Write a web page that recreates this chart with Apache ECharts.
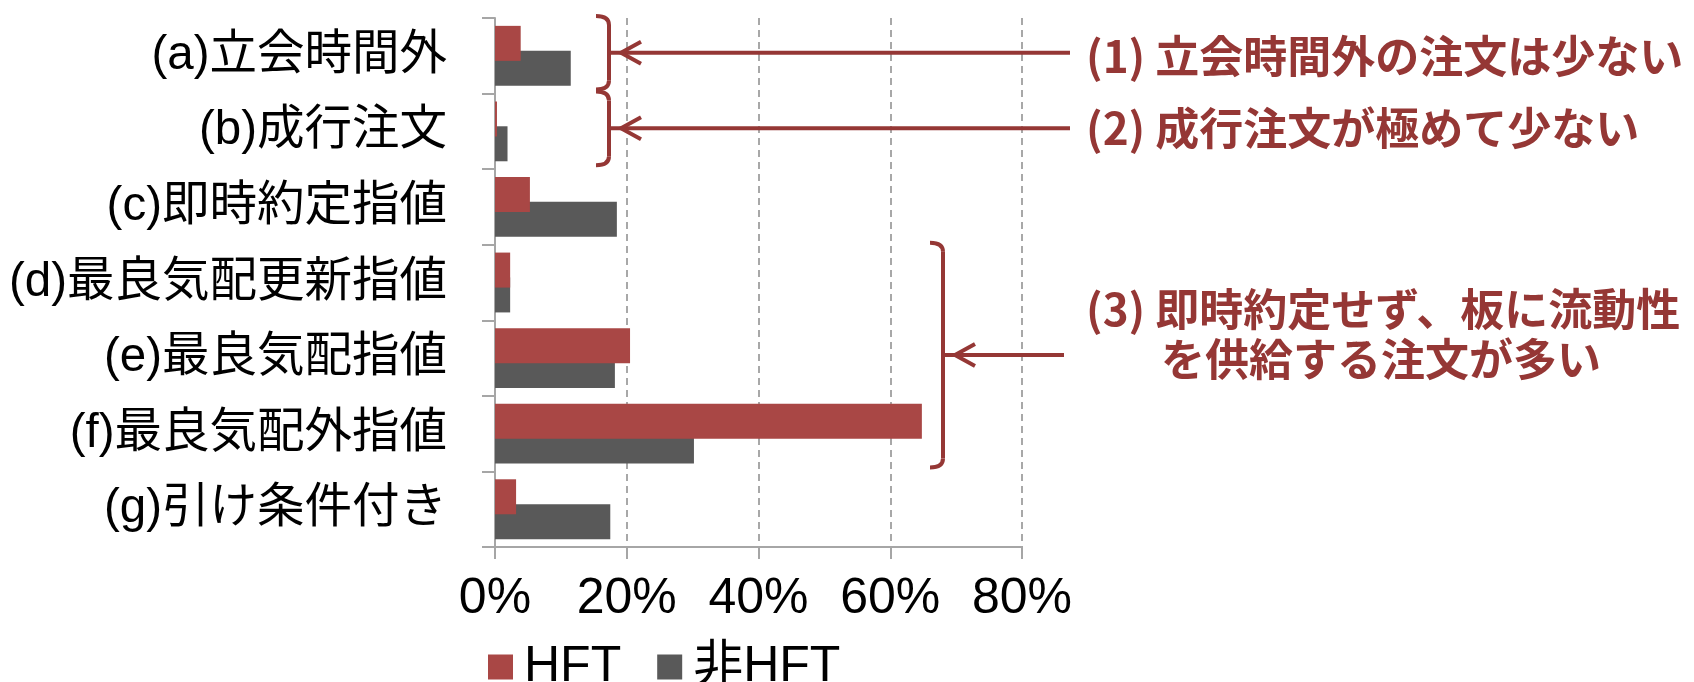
<!DOCTYPE html>
<html>
<head>
<meta charset="utf-8">
<script src="https://cdn.jsdelivr.net/npm/echarts@6/dist/echarts.min.js"></script>
<style>
  html, body { margin: 0; padding: 0; background: #ffffff; }
  #chart { width: 1694px; height: 682px; }
</style>
</head>
<body>
<div id="chart"></div>
<script>
// Order types, top to bottom
const categories = [
  '(a)立会時間外',
  '(b)成行注文',
  '(c)即時約定指値',
  '(d)最良気配更新指値',
  '(e)最良気配指値',
  '(f)最良気配外指値',
  '(g)引け条件付き'
];

// Share of orders by type (%)
const hftShare    = [3.9, 0.3, 5.3, 2.3, 20.5, 64.8, 3.2];
const nonHftShare = [11.5, 1.9, 18.5, 2.3, 18.2, 30.2, 17.5];

const seriesNames = ['HFT', '非HFT'];

// Value axis ticks (%)
const xMin = 0, xMax = 80, xStep = 20;

// Callout notes
const notes = [
  '(1) 立会時間外の注文は少ない',
  '(2) 成行注文が極めて少ない',
  '(3) 即時約定せず、板に流動性',
  'を供給する注文が多い'
];

const RED = '#a94745';
const GRAY = '#595959';
const NOTE = '#953735';
const AXIS = '#a6a6a6';
const FONT = "'Liberation Sans', Arial, 'Noto Sans CJK JP', sans-serif";
const NOTE_FONT = "'Noto Sans CJK JP', sans-serif";

const chart = echarts.init(document.getElementById('chart'), null, { renderer: 'canvas' });

const option = {
  animation: false,
  backgroundColor: '#ffffff',
  grid: { left: 495, right: 672, top: 18, bottom: 135 },
  legend: {
    data: seriesNames,
    left: 483,
    top: 637,
    icon: 'rect',
    itemWidth: 25,
    itemHeight: 25,
    itemGap: 36,
    selectedMode: false,
    textStyle: { fontSize: 50, lineHeight: 50, color: '#000', fontFamily: FONT, padding: [0, 0, 0, 6] }
  },
  xAxis: {
    type: 'value',
    min: xMin,
    max: xMax,
    interval: xStep,
    axisLine: { show: true, lineStyle: { color: AXIS, width: 2 } },
    axisTick: { show: true, length: 12, lineStyle: { color: AXIS, width: 2 } },
    axisLabel: { formatter: '{value}%', fontSize: 50, color: '#000', fontFamily: FONT, margin: 27 },
    splitLine: { show: true, lineStyle: { color: '#8c8c8c', width: 1.5, type: [7, 5] } }
  },
  yAxis: {
    type: 'category',
    data: categories,
    inverse: true,
    axisLine: { show: true, lineStyle: { color: AXIS, width: 2 } },
    axisTick: { show: true, length: 13, lineStyle: { color: AXIS, width: 2 } },
    axisLabel: { fontSize: 47.5, color: '#000', fontFamily: FONT, margin: 48 },
    splitLine: { show: false }
  },
  series: [
    {
      name: seriesNames[0],
      type: 'bar',
      data: hftShare,
      barWidth: 35,
      barGap: '-29%',
      z: 3,
      itemStyle: { color: RED }
    },
    {
      name: seriesNames[1],
      type: 'bar',
      data: nonHftShare,
      barWidth: 35,
      barGap: '-29%',
      z: 2,
      itemStyle: { color: GRAY }
    }
  ]
};

chart.setOption(option);

// Brackets and arrows placed on the category bands
const yc = i => chart.convertToPixel({ yAxisIndex: 0 }, categories[i]);
const band = yc(1) - yc(0);
const spanOf = (i0, i1) => [yc(i0) - band / 2 - 2, yc(i1) + band / 2 - 4];

const stroke = { stroke: NOTE, lineWidth: 4, fill: null };

function bracket(x, top, bot) {
  const r = 9, hook = 13;
  return [
    { type: 'bezierCurve', shape: { x1: x - hook, y1: top, cpx1: x, cpy1: top, x2: x, y2: top + r }, style: stroke, z: 10 },
    { type: 'line', shape: { x1: x, y1: top + r, x2: x, y2: bot - r }, style: stroke, z: 10 },
    { type: 'bezierCurve', shape: { x1: x, y1: bot - r, cpx1: x, cpy1: bot, x2: x - hook, y2: bot }, style: stroke, z: 10 }
  ];
}

function arrow(x0, x1, y) {
  const tip = x0 + 12;
  return [
    { type: 'line', shape: { x1: x0, y1: y, x2: x1, y2: y }, style: stroke, z: 10 },
    {
      type: 'polyline',
      shape: { points: [[tip + 20, y - 11], [tip, y], [tip + 20, y + 11]] },
      style: stroke,
      z: 10
    }
  ];
}

function note(text, x, y) {
  return {
    type: 'text',
    x: x,
    y: y,
    style: {
      text: text,
      fill: NOTE,
      fontSize: 44,
      fontWeight: 'bold',
      fontFamily: NOTE_FONT,
      align: 'left',
      verticalAlign: 'middle'
    },
    z: 10
  };
}

const s1 = spanOf(0, 0);
const s2 = spanOf(1, 1);
const s3 = spanOf(3, 5);
const m1 = (s1[0] + s1[1]) / 2;
const m2 = (s2[0] + s2[1]) / 2;
const m3 = (s3[0] + s3[1]) / 2;

const elements = [
  ...bracket(609, s1[0], s1[1]),
  ...bracket(609, s2[0], s2[1]),
  ...bracket(943, s3[0], s3[1]),
  ...arrow(609, 1070, m1),
  ...arrow(609, 1070, m2),
  ...arrow(943, 1064, m3),
  note(notes[0], 1086, m1 + 3),
  note(notes[1], 1086, m2),
  note(notes[2], 1086, m3 - 46),
  note(notes[3], 1161, m3 + 4)
];

chart.setOption({ graphic: { elements: elements } });
</script>
</body>
</html>
